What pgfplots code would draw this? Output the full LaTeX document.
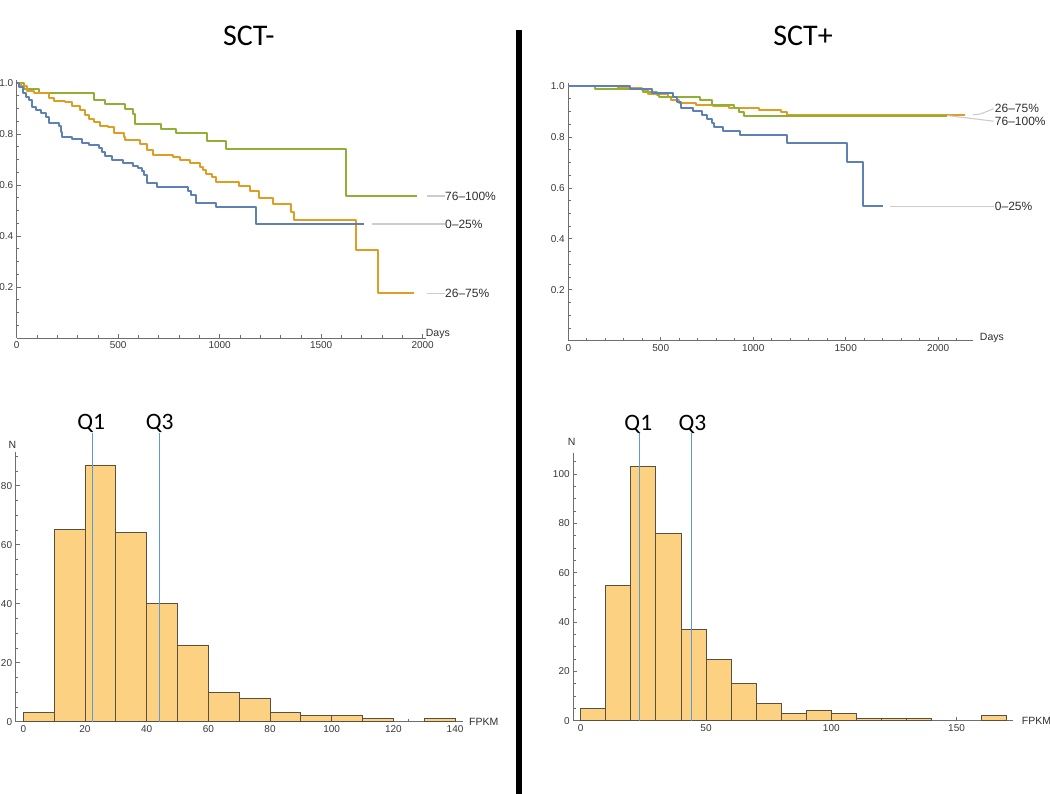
\documentclass[border=0pt]{standalone}
\usepackage{fontspec}
\setmainfont{Liberation Sans}
\newfontfamily\calibri{Carlito}
\usepackage{pgfplots}
\pgfplotsset{compat=1.18}

\definecolor{kmblue}{RGB}{94,129,181}
\definecolor{kmorange}{RGB}{225,156,36}
\definecolor{kmgreen}{RGB}{143,176,50}
\definecolor{histfill}{RGB}{252,209,129}
\definecolor{histedge}{RGB}{90,80,65}
\definecolor{qblue}{RGB}{91,155,213}
\definecolor{axgray}{RGB}{110,110,110}

\pgfplotsset{
  mstyle/.style={
    scale only axis,
    axis lines=left,
    axis line style={-, draw=axgray, line width=0.9pt},
    tick align=inside,
    major tick length=4pt,
    minor tick length=2.5pt,
    tick style={draw=axgray, line width=0.7pt},
    tick label style={font=\fontsize{10}{12}\selectfont, text=black!78},
    /pgf/number format/assume math mode=true,
    /pgf/number format/1000 sep={},
    clip=false,
    anchor=south west,
  },
}
\tikzset{
  kmline/.style={const plot, line width=2pt, line join=round},
  lab/.style={anchor=west, font=\fontsize{12}{14}\selectfont, text=black!82, inner sep=0pt},
  axlab/.style={font=\fontsize{10.5}{12}\selectfont, text=black!82, inner sep=0pt},
  qlab/.style={anchor=base, font=\calibri\fontsize{23.5}{28}\selectfont, inner sep=0pt},
}

\begin{document}
\begin{tikzpicture}
\path[use as bounding box] (0pt,0pt) rectangle (1050pt,794pt);

% titles and divider
\node[anchor=base, font=\calibri\fontsize{30}{36}\selectfont, inner sep=0pt] at (248.8pt,748.3pt) {SCT-};
\node[anchor=base, font=\calibri\fontsize{30}{36}\selectfont, inner sep=0pt] at (803pt,748.3pt) {SCT+};
\fill[black] (515.7pt,0pt) rectangle (522.3pt,764pt);

% ---------------- top left: SCT- survival ----------------
\begin{axis}[mstyle, at={(16.7pt,456pt)}, width=409pt, height=257.5pt,
  xmin=0, xmax=2015, ymin=0, ymax=1.01,
  xtick={0,500,1000,1500,2000},
  minor xtick={100,200,...,2000},
  ytick={0.2,0.4,0.6,0.8,1.0},
  minor ytick={0.05,0.1,...,1.0},
  yticklabel style={/pgf/number format/.cd, fixed, fixed zerofill, precision=1},
]
\addplot[kmline, kmgreen] coordinates {
(0,1) (35,0.975) (110,0.96) (380,0.933) (435,0.916) (535,0.898) (575,0.878)
(582,0.839) (710,0.821) (783,0.804) (937,0.774) (1032,0.742) (1620,0.557) (1970,0.557)};
\addplot[kmline, kmorange] coordinates {
(0,1) (20,0.99) (52,0.97) (84,0.96) (158,0.94) (183,0.93) (240,0.925) (273,0.91)
(313,0.894) (338,0.875) (355,0.86) (380,0.848) (411,0.833) (452,0.826) (477,0.805)
(527,0.79) (535,0.775) (608,0.76) (640,0.737) (673,0.716) (770,0.71) (804,0.698)
(853,0.685) (902,0.67) (917,0.66) (935,0.645) (960,0.63) (984,0.61) (1093,0.596)
(1147,0.575) (1196,0.548) (1264,0.524) (1351,0.495) (1367,0.463) (1672,0.345)
(1779,0.175) (1958,0.175)};
\addplot[kmline, kmblue] coordinates {
(0,1) (11,0.985) (30,0.96) (44,0.945) (60,0.933) (77,0.907) (93,0.894) (118,0.884)
(142,0.868) (158,0.844) (207,0.831) (216,0.809) (224,0.79) (273,0.779) (322,0.766)
(354,0.757) (403,0.744) (420,0.731) (436,0.714) (469,0.698) (526,0.685) (575,0.675)
(599,0.666) (616,0.655) (627,0.64) (640,0.607) (689,0.591) (844,0.575) (861,0.56)
(885,0.531) (983,0.515) (1180,0.447) (1710,0.447)};
% label leaders
\addplot[gray!40, line width=1.1pt] coordinates {(2021,0.557) (2108,0.557)};
\addplot[gray!40, line width=1.1pt] coordinates {(1750,0.447) (2108,0.447)};
\addplot[gray!40, line width=1.1pt] coordinates {(2021,0.175) (2108,0.175)};
\node[lab] at (axis cs:2110,0.557) {76--100\%};
\node[lab] at (axis cs:2110,0.447) {0--25\%};
\node[lab] at (axis cs:2110,0.175) {26--75\%};
\node[axlab, anchor=west] at (axis cs:2015,0.017) {Days};
\end{axis}

% ---------------- top right: SCT+ survival ----------------
\begin{axis}[mstyle, at={(568.3pt,453.3pt)}, width=405pt, height=257.2pt,
  xmin=0, xmax=2190, ymin=0, ymax=1.01,
  xtick={0,500,1000,1500,2000},
  minor xtick={100,200,...,2100},
  ytick={0.2,0.4,0.6,0.8,1.0},
  minor ytick={0.05,0.1,...,1.0},
  yticklabel style={/pgf/number format/.cd, fixed, fixed zerofill, precision=1},
]
\addplot[kmline, kmorange] coordinates {
(0,1) (270,0.993) (400,0.983) (430,0.968) (540,0.958) (555,0.945) (600,0.932)
(690,0.927) (780,0.922) (870,0.915) (1030,0.907) (1150,0.897) (1180,0.885) (2146,0.885)};
\addplot[kmline, kmgreen] coordinates {
(0,1) (146,0.987) (405,0.975) (479,0.963) (492,0.955) (713,0.945) (775,0.925)
(895,0.915) (922,0.9) (948,0.884) (2047,0.884)};
\addplot[kmline, kmblue] coordinates {
(0,1) (335,0.99) (452,0.971) (568,0.956) (590,0.938) (611,0.912) (676,0.903)
(722,0.886) (749,0.87) (776,0.855) (789,0.84) (839,0.825) (929,0.808) (1182,0.778)
(1506,0.70) (1596,0.527) (1701,0.527)};
\addplot[gray!40, line width=1.1pt] coordinates {(2189,0.887) (2228,0.89) (2300,0.911)};
\addplot[gray!40, line width=1.1pt] coordinates {(2050,0.884) (2300,0.862)};
\addplot[gray!40, line width=1.1pt] coordinates {(1739,0.527) (2300,0.527)};
\node[lab] at (axis cs:2306,0.911) {26--75\%};
\node[lab] at (axis cs:2306,0.861) {76--100\%};
\node[lab] at (axis cs:2306,0.527) {0--25\%};
\node[axlab, anchor=west] at (axis cs:2225,0.01) {Days};
\end{axis}

% ---------------- bottom left: SCT- histogram ----------------
\begin{axis}[mstyle, at={(15.6pt,72.3pt)}, width=447.8pt, height=270pt,
  xmin=-2.5, xmax=142.7, ymin=0, ymax=91.5,
  xtick={0,20,...,140},
  minor xtick={5,10,...,140},
  ytick={0,20,...,80},
  minor ytick={5,10,...,90},
]
\addplot[ybar interval, fill=histfill, draw=histedge, line width=0.8pt] coordinates {
(0,3) (10,65) (20,87) (30,64) (40,40) (50,26) (60,10) (70,8) (80,3) (90,2) (100,2) (110,1) (120,1)};
\addplot[ybar interval, fill=histfill, draw=histedge, line width=0.8pt] coordinates {
(130,1) (140,1)};
\addplot[qblue, line width=1.1pt] coordinates {(22.3,0) (22.3,97.8)};
\addplot[qblue, line width=1.1pt] coordinates {(44.2,0) (44.2,97.8)};
\node[qlab] at (axis cs:22.0,98.9) {Q1};
\node[qlab] at (axis cs:44.2,98.9) {Q3};
\node[axlab, anchor=south] at (axis cs:-3.5,92.5) {N};
\node[axlab, anchor=west] at (axis cs:144.5,0) {FPKM};
\end{axis}

% ---------------- bottom right: SCT+ histogram ----------------
\begin{axis}[mstyle, at={(573.2pt,73.3pt)}, width=440pt, height=267.9pt,
  xmin=-3, xmax=172.6, ymin=0, ymax=108.6,
  xtick={0,50,100,150},
  minor xtick={10,20,...,170},
  ytick={0,20,...,100},
  minor ytick={5,10,...,105},
]
\addplot[ybar interval, fill=histfill, draw=histedge, line width=0.8pt] coordinates {
(0,5) (10,55) (20,103) (30,76) (40,37) (50,25) (60,15) (70,7) (80,3) (90,4) (100,3) (110,1) (120,1) (130,1) (140,1)};
\addplot[ybar interval, fill=histfill, draw=histedge, line width=0.8pt] coordinates {
(160,2) (170,2)};
\addplot[qblue, line width=1.1pt] coordinates {(23.5,0) (23.5,116.5)};
\addplot[qblue, line width=1.1pt] coordinates {(44.2,0) (44.2,116.5)};
\node[qlab] at (axis cs:23.0,117.8) {Q1};
\node[qlab] at (axis cs:44.6,117.8) {Q3};
\node[axlab, anchor=south] at (axis cs:-3.6,111.5) {N};
\node[axlab, anchor=west] at (axis cs:176,0) {FPKM};
\end{axis}
\end{tikzpicture}
\end{document}
